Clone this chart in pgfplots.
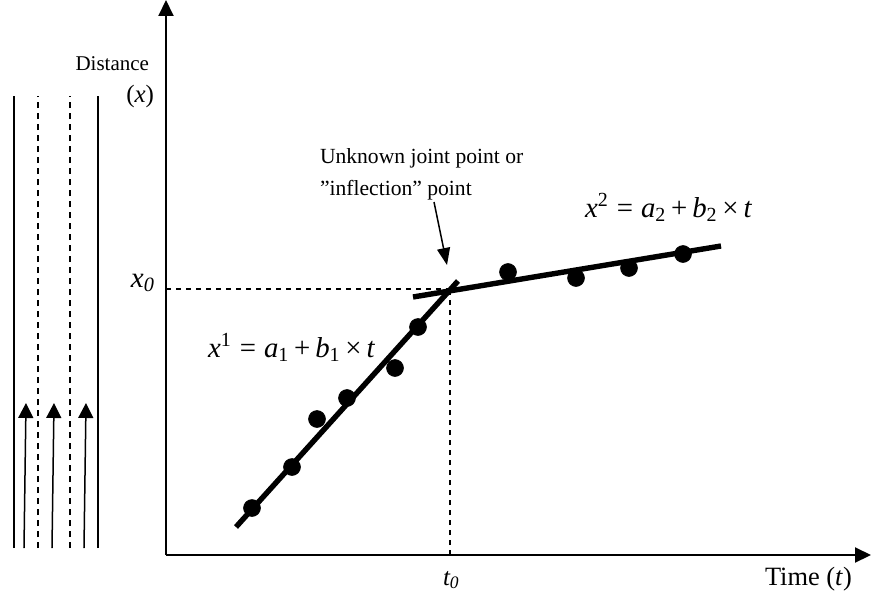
\documentclass[border=0pt]{standalone}
\usepackage{fontspec}
\setmainfont{Liberation Serif}
\usepackage{pgfplots}
\pgfplotsset{compat=1.18}
\usetikzlibrary{arrows.meta}
\tikzset{lbl/.style={inner sep=0pt, outer sep=0pt}}

\begin{document}
\begin{tikzpicture}
\begin{axis}[
  x=0.5pt, y=0.5pt,
  xmin=0, xmax=705, ymin=0, ymax=555,
  axis lines=left,
  axis line style={line width=1pt, -{Triangle[width=7.5pt,length=8pt]}},
  xtick=\empty, ytick=\empty,
  clip=false,
]
% traffic lanes on the left
\addplot[black, line width=0.75pt] coordinates {(-152,7) (-152,459)};
\addplot[black, line width=0.75pt] coordinates {(-68,7) (-68,459)};
\addplot[black, line width=0.75pt, dash pattern=on 3pt off 2.5pt] coordinates {(-128,7) (-128,459)};
\addplot[black, line width=0.75pt, dash pattern=on 3pt off 2.5pt] coordinates {(-96,7) (-96,459)};
\addplot[black, line width=0.75pt, -{Triangle[width=7.5pt,length=7.5pt]}] coordinates {(-142,7) (-140,152)};
\addplot[black, line width=0.75pt, -{Triangle[width=7.5pt,length=7.5pt]}] coordinates {(-114,7) (-112,152)};
\addplot[black, line width=0.75pt, -{Triangle[width=7.5pt,length=7.5pt]}] coordinates {(-82,7) (-80,152)};

% joint point guides
\addplot[black, line width=0.8pt, dash pattern=on 2.5pt off 2.5pt] coordinates {(0,266) (284,266)};
\addplot[black, line width=0.8pt, dash pattern=on 2.5pt off 2.5pt] coordinates {(284,0) (284,266)};

% fitted segments
\addplot[black, line width=2.7pt] coordinates {(70,28) (292,274)};
\addplot[black, line width=2.7pt] coordinates {(247,258) (555,309)};

% observations
\addplot[only marks, mark=*, mark size=4.2pt, black] coordinates {
  (86,47) (126,88) (151,136) (181,157) (229,187) (252,228)
  (342,283) (410,277) (463,287) (517,301)
};

% labels
\node[lbl, anchor=base east, font=\fontsize{10.5}{12}\selectfont] at (axis cs:-17,484) {Distance};
\node[lbl, anchor=base east, font=\fontsize{12.5}{14}\selectfont] at (axis cs:-12,452) {(\textit{x})};
\node[lbl, anchor=base east, font=\fontsize{14.5}{16}\selectfont] at (axis cs:-11,268) {\textit{x\textsubscript{0}}};
\node[lbl, anchor=base west, font=\fontsize{12.5}{14}\selectfont] at (axis cs:277,-30) {\textit{t\textsubscript{0}}};
\node[lbl, anchor=base west, font=\fontsize{13.2}{15}\selectfont] at (axis cs:599,-30) {Time (\textit{t})};

\node[lbl, anchor=base west, font=\fontsize{10.8}{12}\selectfont] at (axis cs:154,392) {Unknown joint point or};
\node[lbl, anchor=base west, font=\fontsize{10.8}{12}\selectfont] at (axis cs:154,360) {''inflection'' point};
\draw[black, line width=0.75pt, -{Triangle[width=6.5pt,length=8.5pt]}] (axis cs:268,353) -- (axis cs:281,290);

\node[lbl, anchor=base west, font=\fontsize{14.4}{16}\selectfont] at (axis cs:42,198)
  {\textit{x}\textsuperscript{1}\;=\;\textit{a}\textsubscript{1}\,+\,\textit{b}\textsubscript{1}\,×\,\textit{t}};
\node[lbl, anchor=base west, font=\fontsize{14.4}{16}\selectfont] at (axis cs:419,338)
  {\textit{x}\textsuperscript{2}\;=\;\textit{a}\textsubscript{2}\,+\,\textit{b}\textsubscript{2}\,×\,\textit{t}};

\coordinate (bbll) at (axis cs:-166,-35);
\coordinate (bbur) at (axis cs:705,555);
\end{axis}
\pgfresetboundingbox
\path[use as bounding box] (bbll) rectangle (bbur);
\end{tikzpicture}
\end{document}
